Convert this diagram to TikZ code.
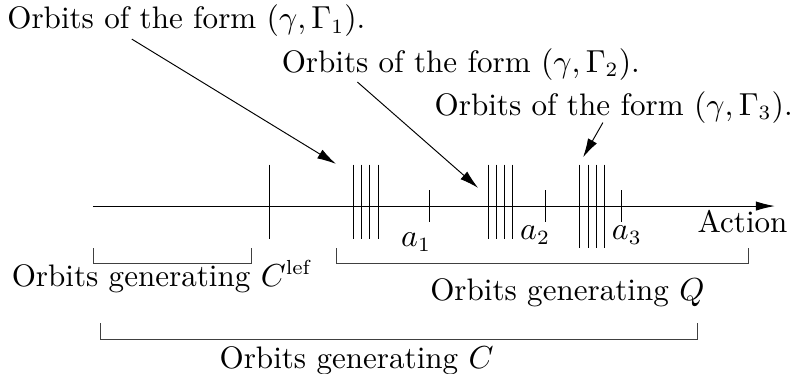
\documentclass[tikz,border=0pt]{standalone}
\usepackage{tikz}
\usetikzlibrary{arrows.meta, positioning}

\begin{document}
\begin{tikzpicture}[
        font=\fontsize{10.7pt}{13pt}\selectfont,
        line width=0.33pt,
        txt/.style={anchor=base, inner sep=0pt},
        ticklbl/.style={inner sep=0pt},
        axis/.style={-{Latex[length=6.5pt, width=3.2pt]}},
        pointer/.style={-{Latex[length=6.5pt, width=3.5pt]}},
        bracket/.style={draw=black!75}
    ]
        \useasboundingbox (-1.125,-2.021) rectangle (8.47,2.493);

        % action axis
        \coordinate (start) at (0,0);
        \coordinate (end) at (8.25,0);
        \draw[axis] (start) -- (end);
        \node[ticklbl, anchor=base] (action) at (7.86,-0.315) {Action};

        % single orbit and the action values
        \draw (2.13,0.50) -- (2.13,-0.40);
        \foreach \x/\n in {4.07/1, 5.48/2, 6.40/3}
            \draw (\x,0.19) -- (\x,-0.19);
        \node[ticklbl] (a1) at (3.91,-0.44) {$a_1$};
        \node[ticklbl] (a2) at (5.35,-0.35) {$a_2$};
        \node[ticklbl] (a3) at (6.46,-0.35) {$a_3$};

        % clusters of orbits
        \foreach \i in {0,...,3} {
            \draw (3.15+0.1*\i,0.50) -- (3.15+0.1*\i,-0.40);
            \draw (4.78+0.1*\i,0.50) -- (4.78+0.1*\i,-0.40);
            \draw (5.89+0.1*\i,0.50) -- (5.89+0.1*\i,-0.51);
        }

        % the three kinds of orbits
        \node[txt] (form1) at (1.13,2.15) {Orbits of the form $(\gamma,\Gamma_1)$.};
        \node[txt] (form2) at (4.45,1.62) {Orbits of the form $(\gamma,\Gamma_2)$.};
        \node[txt] (form3) at (6.30,1.10) {Orbits of the form $(\gamma,\Gamma_3)$.};
        \coordinate (tip1) at (2.94,0.51);
        \coordinate (tip2) at (4.66,0.22);
        \coordinate (tip3) at (5.93,0.59);
        \draw[pointer] ([xshift=-0.66cm, yshift=-0.13cm]form1.base) -- (tip1);
        \draw[pointer] ([xshift=-1.25cm, yshift=-0.12cm]form2.base) -- (tip2);
        \draw[pointer] ([xshift=-0.13cm, yshift=-0.09cm]form3.base) -- (tip3);

        % brackets below the axis
        \draw[bracket] (0,-0.51) -- (0,-0.70) -- (1.92,-0.70) -- (1.92,-0.51);
        \draw[bracket] (2.95,-0.51) -- (2.95,-0.70) -- (7.93,-0.70) -- (7.93,-0.51);
        \draw[bracket] (0.09,-1.42) -- (0.09,-1.62) -- (7.32,-1.62) -- (7.32,-1.42);
        \node[txt] (genlef) at (0.84,-0.97) {Orbits generating $C^{\mathrm{lef}}$};
        \node[txt] (genq) at (5.74,-1.14) {Orbits generating $Q$};
        \node[txt] (genc) at (3.19,-1.96) {Orbits generating $C$};
    \end{tikzpicture}
\end{document}
